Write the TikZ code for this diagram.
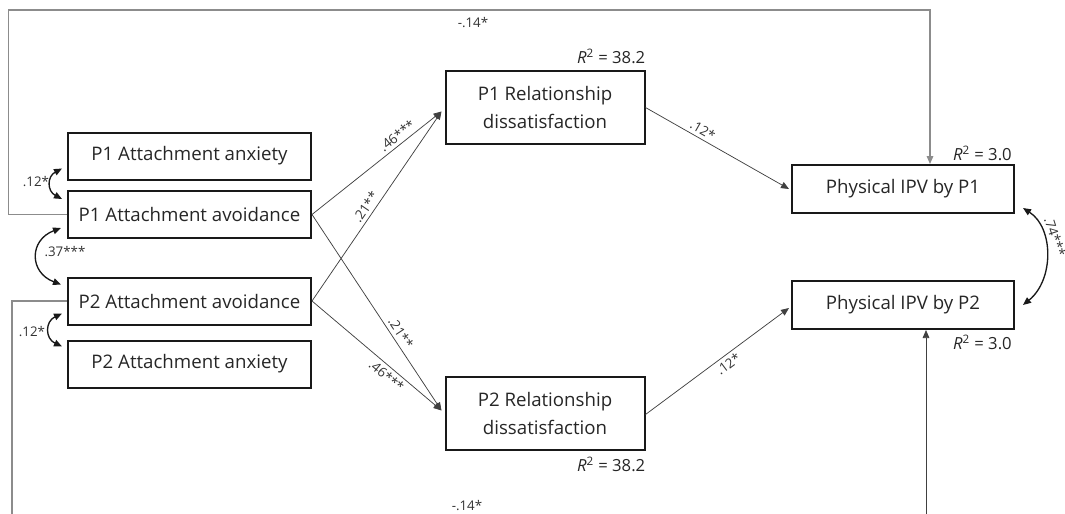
\documentclass[tikz,border=0pt]{standalone}
\usepackage{fontspec}
\setmainfont{Open Sans}
\usetikzlibrary{arrows.meta}
\newdimen\pxu \pxu=0.75pt
\begin{document}
\begin{tikzpicture}[x=0.75pt,y=-0.75pt,
  box/.style={draw=black!90, line width=1.5pt, align=center, inner sep=0pt,
    text=black!85, font=\fontsize{14}{21}\selectfont},
  sbox/.style={box, minimum width=243\pxu, minimum height=47\pxu},
  rbox/.style={box, minimum width=199\pxu, minimum height=73\pxu},
  ibox/.style={box, minimum width=222\pxu, minimum height=48\pxu},
  conn/.style={line width=0.55pt, draw=black!75, -{Triangle[length=6pt,width=5pt]}},
  gconn/.style={line width=0.8pt, draw=black!45},
  cov/.style={line width=1pt, draw=black!90, {Triangle[length=6pt,width=5pt]}-{Triangle[length=6pt,width=5pt]}},
  lab/.style={font=\fontsize{10}{12}\selectfont, text=black!80, inner sep=1.5pt},
  plab/.style={lab, sloped, inner sep=2.5pt},
  rlab/.style={font=\fontsize{12.5}{14}\selectfont, text=black!85, inner sep=0pt}
]
\useasboundingbox (0,0) rectangle (1065,514);

% boxes
\node[sbox] (anx1) at (189.5,156) {P1 Attachment anxiety};
\node[sbox] (av1)  at (189.5,214.5) {P1 Attachment avoidance};
\node[sbox] (av2)  at (189.5,301) {P2 Attachment avoidance};
\node[sbox] (anx2) at (189.5,364) {P2 Attachment anxiety};
\node[rbox] (rd1) at (545,107.5) {P1 Relationship\\dissatisfaction};
\node[rbox] (rd2) at (545,413.5) {P2 Relationship\\dissatisfaction};
\node[ibox] (ipv1) at (903,189) {Physical IPV by P1};
\node[ibox] (ipv2) at (903,305) {Physical IPV by P2};

% R^2 labels
\node[rlab, anchor=south east] (r1) at ([yshift=6\pxu]rd1.north east) {\textit{R}\textsuperscript{2} = 38.2};
\node[rlab, anchor=north east] (r2) at ([yshift=-6\pxu]rd2.south east) {\textit{R}\textsuperscript{2} = 38.2};
\node[rlab, anchor=south east] (r3) at ([xshift=-3\pxu,yshift=3\pxu]ipv1.north east) {\textit{R}\textsuperscript{2} = 3.0};
\node[rlab, anchor=north east] (r4) at ([xshift=-3\pxu,yshift=-5\pxu]ipv2.south east) {\textit{R}\textsuperscript{2} = 3.0};

% paths to relationship dissatisfaction
\draw[conn] (av1.east) -- ([xshift=-3\pxu,yshift=-4\pxu]rd1.west)
  node[plab, above, pos=0.7] {.46***};
\draw[conn] (av2.east) -- ([xshift=-3\pxu,yshift=-4\pxu]rd1.west)
  node[plab, above, pos=0.47] {.21**};
\draw[conn] (av1.east) -- ([xshift=-3\pxu,yshift=3\pxu]rd2.west)
  node[plab, above, pos=0.63] {.21**};
\draw[conn] (av2.east) -- ([xshift=-3\pxu,yshift=3\pxu]rd2.west)
  node[plab, below, pos=0.62] {.46***};

% paths to IPV
\draw[conn] (rd1.east) -- ([xshift=-2\pxu]ipv1.west)
  node[plab, above, pos=0.37] {.12*};
\draw[conn] ([yshift=-1\pxu]rd2.east) -- ([xshift=-2\pxu,yshift=-3\pxu]ipv2.west)
  node[plab, below, pos=0.54] {.12*};

% direct paths
\coordinate (tl) at (8.5,10);
\draw[gconn, -{Triangle[length=6pt,width=5pt]}] (av1.west) -| (tl) -| ([xshift=27\pxu]ipv1.north);
\node[lab] (t1) at (473,23) {-.14*};
\coordinate (bl) at (12,514);
\draw[gconn] (av2.west) -| (bl);
\coordinate (br) at (926,514);
\draw[conn] (br) -- ([xshift=23\pxu]ipv2.south);
\node[lab] (t2) at (467,506) {-.14*};

% covariances
\draw[cov] ([xshift=-5\pxu,yshift=12\pxu]anx1.south west) .. controls +(-15,8) and +(-15,-8) .. ([xshift=-5\pxu,yshift=-9\pxu]av1.north west);
\node[lab] (c1) at (36,182) {.12*};
\draw[cov] ([xshift=-6\pxu,yshift=11\pxu]av1.south west) .. controls +(-32,12) and +(-32,-12) .. ([xshift=-6\pxu,yshift=-8\pxu]av2.north west);
\node[lab] (c2) at (65,252) {.37***};
\draw[cov] ([xshift=-5\pxu,yshift=12\pxu]av2.south west) .. controls +(-17,8) and +(-17,-8) .. ([xshift=-5\pxu,yshift=-7\pxu]anx2.north west);
\node[lab] (c3) at (32,332) {.12*};
\draw[cov] ([xshift=8\pxu,yshift=6\pxu]ipv1.south east) .. controls +(31,20) and +(31,-25) .. ([xshift=8\pxu]ipv2.east);
\node[lab, rotate=-72] (c4) at (1055,237) {.74***};
\end{tikzpicture}
\end{document}
